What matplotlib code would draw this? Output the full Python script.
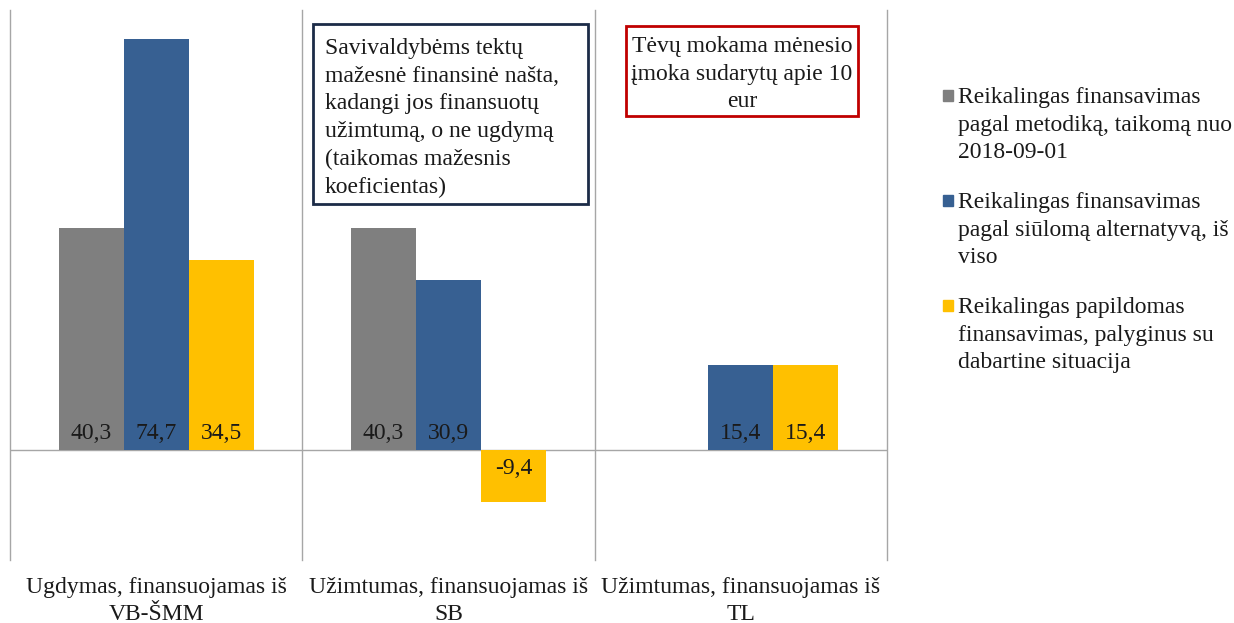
import matplotlib.pyplot as plt
import numpy as np
from matplotlib.patches import Rectangle

categories = [
    "Ugdymas, finansuojamas iš\nVB-ŠMM",
    "Užimtumas, finansuojamas iš\nSB",
    "Užimtumas, finansuojamas iš\nTL",
]
series_names = [
    "Reikalingas finansavimas\npagal metodiką, taikomą nuo\n2018-09-01",
    "Reikalingas finansavimas\npagal siūlomą alternatyvą, iš\nviso",
    "Reikalingas papildomas\nfinansavimas, palyginus su\ndabartine situacija",
]
methodology = [40.3, 40.3, np.nan]
alternative = [74.7, 30.9, 15.4]
additional = [34.5, -9.4, 15.4]
series = [methodology, alternative, additional]
colors = ["#7f7f7f", "#376092", "#ffc000"]

note_left = ("Savivaldybėms tektų\nmažesnė finansinė našta,\nkadangi jos finansuotų\n"
             "užimtumą, o ne ugdymą\n(taikomas mažesnis\nkoeficientas)")
note_right = "Tėvų mokama mėnesio\nįmoka sudarytų apie 10\neur"

plt.rcParams["font.family"] = ["Liberation Serif", "DejaVu Serif"]
plt.rcParams["font.size"] = 17
LS = 1.42

W, H = 1234, 623
fig = plt.figure(figsize=(W / 100, H / 100), dpi=100)


def fx(px):
    return px / W


def fy(py):
    return 1 - py / H


ax = fig.add_axes([fx(10), fy(560), fx(877), 550 / H])
x = np.arange(len(categories))
width = 0.222

for i, (vals, c) in enumerate(zip(series, colors)):
    off = (i - 1) * width
    ax.bar(x + off, vals, width=width, color=c, zorder=2)
    for xi, v in zip(x, vals):
        if np.isnan(v):
            continue
        txt = f"{v:.1f}".replace(".", ",")
        ax.annotate(txt, xy=(xi + off, 0), xytext=(0, 4 if v > 0 else -6),
                    textcoords="offset points", ha="center",
                    va="bottom" if v > 0 else "top", color="#1a1a1a", zorder=3)

for b in [-0.5, 0.5, 1.5, 2.5]:
    ax.axvline(b, color="#a6a6a6", lw=1, zorder=1, clip_on=False)
ax.axhline(0, color="#a6a6a6", lw=1, zorder=1)

ax.set_xlim(-0.5, 2.5)
ax.set_ylim(-20, 80)
ax.set_yticks([])
ax.set_xticks(x)
ax.set_xticklabels(categories, linespacing=LS)
ax.tick_params(axis="x", length=0, pad=12, colors="#1a1a1a")
for s in ax.spines.values():
    s.set_visible(False)

# annotation boxes
fig.patches.append(Rectangle((fx(313), fy(204)), fx(588 - 313), (204 - 24) / H,
                             transform=fig.transFigure, fill=False,
                             edgecolor="#1c2b47", lw=2))
fig.text(fx(325), fy(38), note_left, ha="left", va="top", linespacing=LS,
         color="#1a1a1a")
fig.patches.append(Rectangle((fx(626), fy(116)), fx(858 - 626), (116 - 26) / H,
                             transform=fig.transFigure, fill=False,
                             edgecolor="#c00000", lw=2))
fig.text(fx(742), fy(36), note_right, ha="center", va="top", linespacing=LS,
         color="#1a1a1a")

# legend
for k, (name, c) in enumerate(zip(series_names, colors)):
    ytop = 87 + k * 105
    fig.patches.append(Rectangle((fx(943), fy(ytop + 14)), fx(10), 11 / H,
                                 transform=fig.transFigure, color=c))
    fig.text(fx(958), fy(ytop), name, ha="left", va="top", linespacing=LS,
             color="#1a1a1a")

fig.savefig("out.png", dpi=100)
